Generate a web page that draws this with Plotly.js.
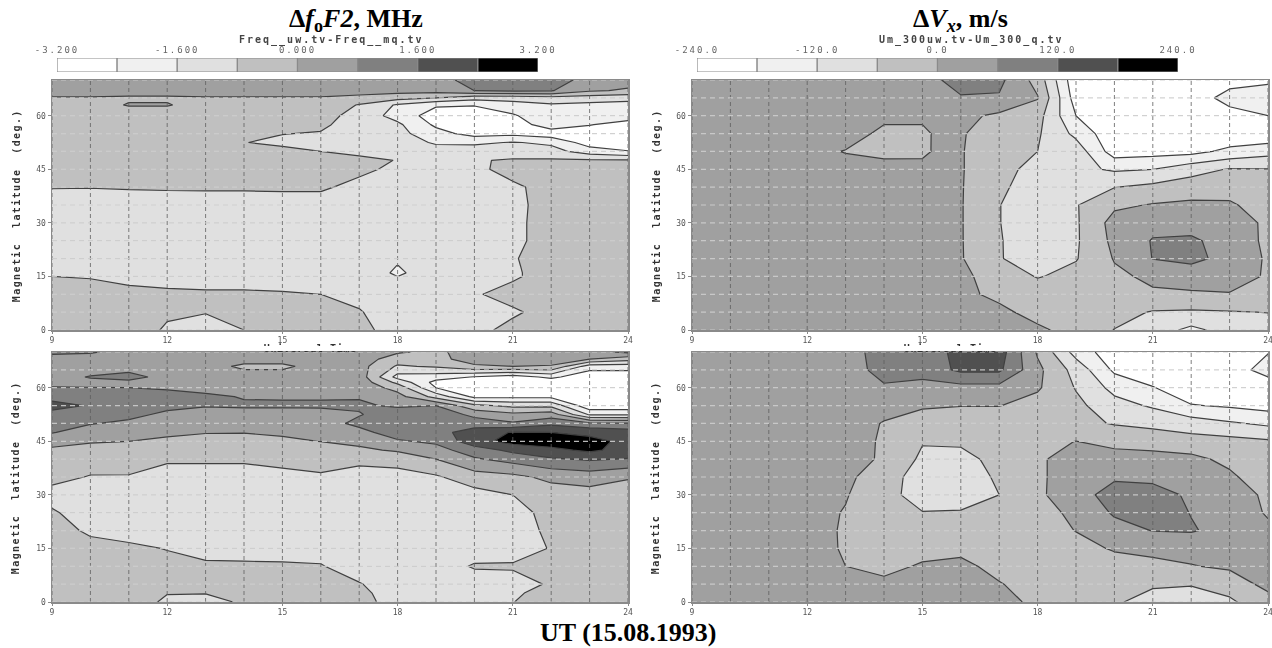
<!DOCTYPE html>
<html><head><meta charset="utf-8">
<script src="https://cdn.plot.ly/plotly-3.0.1.min.js"></script>
<style>html,body{margin:0;padding:0;background:#fff}#chart{width:1272px;height:648px}
.cut{position:absolute;background:#fff;height:5px;top:346px;width:150px}</style>
</head><body>
<svg width="0" height="0" style="position:absolute"><filter id="soft" x="-30%" y="-30%" width="160%" height="160%"><feGaussianBlur stdDeviation="0.7"/></filter></svg>
<div id="chart"></div>
<div class="cut" style="left:235px"></div><div class="cut" style="left:875px"></div>
<script>
// ---- axes values ----
const hours = [9,10,11,12,13,14,15,16,17,18,19,20,21,22,23,24];
const hoursVx = [9,10,11,12,13,14,15,15.5,16,17,18,19,20,21,22,23,24];
const gridHours = [9,10,11,12,13,14,15,16,17,18,19,20,21,22,23,24];
const gridLats = [0,5,10,15,20,25,30,35,40,45,50,55,60,65,70];
const xTicks = [9,12,15,18,21,24];
const yTicks = [0,15,30,45,60];
const bandColors = ['#ffffff','#f0f0f0','#e0e0e0','#c0c0c0','#a0a0a0','#808080','#505050','#000000'];
const foEdges = [-3.2,-2.4,-1.6,-0.8,0,0.8,1.6,2.4,3.2];
const vxEdges = [-240,-180,-120,-60,0,60,120,180,240];
const foTickVals = [-3.2,-1.6,0,1.6,3.2];
const foTickText = ['-3.200','-1.600','0.000','1.600','3.200'];
const vxTickVals = [-240,-120,0,120,240];
const vxTickText = ['-240.0','-120.0','0.0','120.0','240.0'];

// ---- delta foF2, upper panel (MHz) rows by latitude ----
const latFoTop = [0,5,10,15,16,18,20,25,30,35,40,45,47.5,50,52.5,55,57.5,60,63,65,67,70];
const foTop = [
[-.5,-.5,-.5,-.87,-1.0,-.8,-.4,-.4,-.6,-1.1,-1.2,-1.0,-.6,-.4,-.4,-.4],
[-.5,-.5,-.5,-.72,-.78,-.6,-.5,-.5,-.75,-1.2,-1.2,-1.1,-.9,-.55,-.4,-.4],
[-.55,-.6,-.65,-.7,-.72,-.72,-.74,-.8,-1.0,-1.2,-1.2,-.87,-.55,-.4,-.4,-.4],
[-.8,-.83,-.95,-1.0,-1.05,-1.05,-1.1,-1.15,-1.2,-1.6,-1.25,-1.15,-.9,-.5,-.4,-.4],
[-.85,-.9,-1.0,-1.05,-1.1,-1.1,-1.15,-1.2,-1.2,-1.7,-1.25,-1.15,-.9,-.5,-.4,-.4],
[-1.0,-1.05,-1.1,-1.15,-1.15,-1.15,-1.2,-1.2,-1.2,-1.61,-1.2,-1.15,-.88,-.48,-.4,-.4],
[-1.1,-1.15,-1.2,-1.2,-1.2,-1.2,-1.2,-1.2,-1.2,-1.2,-1.2,-1.2,-.86,-.45,-.4,-.4],
[-1.2,-1.2,-1.2,-1.2,-1.2,-1.2,-1.2,-1.2,-1.2,-1.2,-1.2,-1.2,-1.0,-.45,-.4,-.4],
[-1.2,-1.2,-1.2,-1.2,-1.2,-1.2,-1.2,-1.2,-1.2,-1.2,-1.2,-1.2,-1.0,-.45,-.4,-.4],
[-1.1,-1.1,-1.1,-1.1,-1.1,-1.1,-1.1,-1.1,-1.1,-1.2,-1.2,-1.2,-1.0,-.5,-.4,-.4],
[-.77,-.78,-.75,-.73,-.72,-.72,-.7,-.7,-1.0,-1.2,-1.25,-1.2,-.95,-.5,-.4,-.4],
[-.5,-.5,-.5,-.5,-.5,-.5,-.55,-.6,-.65,-.95,-1.2,-1.0,-.5,-.45,-.45,-.45],
[-.45,-.45,-.45,-.45,-.45,-.45,-.45,-.55,-.65,-.82,-1.2,-.88,-.7,-.7,-.7,-.7],
[-.4,-.4,-.4,-.4,-.4,-.4,-.6,-.8,-.95,-1.2,-1.25,-1.2,-1.25,-1.3,-2.0,-2.35],
[-.4,-.4,-.4,-.4,-.4,-.78,-.95,-1.05,-1.1,-1.2,-1.7,-1.75,-1.55,-1.75,-2.8,-3.0],
[-.4,-.4,-.4,-.4,-.4,-.3,-.78,-.85,-1.1,-1.35,-2.1,-2.7,-2.6,-2.9,-3,-3],
[-.4,-.4,-.4,-.4,-.4,-.4,-.5,-.65,-1.2,-1.45,-2.55,-2.9,-2.9,-1.9,-2.35,-2.8],
[-.4,-.4,-.4,-.4,-.4,-.4,-.4,-.5,-1.1,-1.9,-2.8,-2.9,-2.5,-1.8,-1.9,-1.9],
[-.3,-.3,.05,.05,-.3,-.3,-.3,-.3,-.85,-1.7,-2.3,-2.35,-1.9,-1.7,-1.8,-1.8],
[-.05,-.05,-.1,-.1,-.05,-.05,-.05,-.05,-.2,-.5,-.8,-1.3,-1.3,-1.1,-1.2,-1.4],
[.3,.3,.3,.3,.3,.3,.3,.3,.3,.3,.3,.8,.9,.85,.1,-.1],
[.5,.5,.5,.5,.5,.5,.5,.5,.5,.5,.5,1.1,1.2,1.2,.5,.3]
];

// ---- delta Vx, upper panel (read in contour steps of 0.8 = 60 m/s) rows by latitude ----
const latVx = [0,5,10,15,20,25,30,35,40,45,50,55,60,65,70];
const vxTopSteps = [
[.4,.4,.4,.4,.4,.4,.4,.4,.4,.3,.15,-.3,-.82,-1.2,-1.8,-1.3,-1.2],
[.4,.4,.4,.4,.4,.4,.4,.4,.35,.2,-.3,-.45,-.55,-.85,-.9,-.85,-.78],
[.4,.4,.4,.4,.4,.4,.4,.4,.2,-.2,-.35,-.4,-.35,-.1,-.1,-.05,-.1],
[.4,.4,.4,.4,.4,.4,.4,.35,.15,-.3,-.85,-.55,-.15,.15,.35,.4,-.1],
[.4,.4,.4,.4,.4,.4,.4,.3,.06,-.75,-1.2,-.85,.05,.82,1.0,.55,-.1],
[.4,.4,.4,.4,.4,.4,.4,.3,.05,-.75,-1.25,-.9,.2,.85,.88,.6,-.2],
[.4,.4,.4,.4,.4,.4,.4,.3,.05,-.78,-1.25,-.9,.3,.55,.6,.55,-.2],
[.4,.4,.4,.4,.4,.4,.4,.3,.05,-.78,-1.25,-.85,-.15,.05,.15,.1,-.35],
[.4,.4,.4,.4,.4,.4,.4,.3,.05,-.65,-1.2,-1.15,-.82,-.6,-.4,-.3,-.3],
[.4,.4,.4,.4,.4,.35,.3,.35,.05,-.5,-1.1,-1.4,-1.7,-1.6,-1.1,-.75,-.77],
[.4,.4,.4,.3,-.05,-.25,-.2,.25,.04,-.4,-.8,-1.15,-2.8,-2.7,-2.65,-2.2,-1.9],
[.4,.4,.4,.4,.5,-.25,-.25,.3,.05,-.3,-.7,-1.8,-3,-3,-3,-3,-3],
[.4,.4,.4,.4,.5,.25,.25,.35,.2,-.15,-.5,-2.4,-3,-3,-3,-2.8,-2.4],
[.4,.4,.4,.4,.4,.4,.5,.6,.75,.72,.05,-2.8,-3,-3,-3,-2.0,-1.8],
[.4,.4,.4,.4,.4,.4,.6,.8,1.05,1.0,-.3,-3,-3,-3,-3,-2.8,-2.6]
];

// ---- delta foF2, lower panel (MHz) columns by hour ----
const latFoBottom = [0,2.5,5,10,15,20,25,30,35,40,42.5,45,47.5,50,52.5,55,57.5,60,61.5,63,66,68,70];
const foBottomByHour = [
[-.5,-.5,-.5,-.5,-.5,-.55,-.7,-1.1,-.55,-.3,-.1,.2,.85,1.1,1.4,1.8,1.4,.82,.7,.5,.4,.4,1.0],
[-.5,-.5,-.5,-.5,-.6,-.9,-1.2,-1.2,-.85,-.4,-.2,.05,.4,.85,1.1,1.55,1.3,.82,.6,.85,.4,.4,.9],
[-.5,-.5,-.5,-.6,-.7,-1.0,-1.2,-1.2,-.85,-.45,-.15,0,.3,.65,1.0,1.3,1.2,.8,.6,1.1,.4,.4,.5],
[-.9,-.78,-.6,-.65,-.82,-1.2,-1.25,-1.25,-1.1,-.7,-.4,-.15,.15,.4,.65,1.0,1.1,.7,.55,.5,.4,.4,.4],
[-1.0,-.78,-.55,-.7,-1.0,-1.25,-1.25,-1.25,-1.1,-.7,-.45,-.2,.03,.25,.5,.85,.95,.55,.5,.45,.4,.4,.4],
[-.72,-.55,-.55,-.72,-1.0,-1.25,-1.3,-1.3,-1.1,-.7,-.45,-.2,.02,.25,.5,.9,.75,.55,.5,.45,-.2,.4,.4],
[-.5,-.5,-.5,-.72,-1.05,-1.3,-1.3,-1.3,-1.0,-.6,-.4,-.12,.1,.3,.55,.88,.75,.55,.5,.45,-.2,.4,.4],
[-.5,-.5,-.55,-.75,-1.1,-1.3,-1.3,-1.25,-.88,-.55,-.25,.01,.2,.45,.6,.88,.75,.55,.5,.45,.4,.4,.4],
[-.55,-.6,-.75,-1.2,-1.3,-1.3,-1.25,-1.2,-1.05,-.65,-.15,.2,.55,1.0,.75,.9,.75,.55,.5,.45,.3,.4,.4],
[-1.1,-1.2,-1.25,-1.3,-1.3,-1.3,-1.3,-1.25,-1.1,-.5,.1,.7,1.2,1.4,1.2,.7,.3,-.3,-1.0,-1.9,-.9,-.4,.1],
[-1.2,-1.25,-1.3,-1.3,-1.3,-1.3,-1.25,-1.2,-.9,0,.5,.95,1.3,1.45,1.3,.8,-1.1,-2.4,-2.7,-2.0,-.7,-.2,-.2],
[-1.3,-1.3,-1.35,-.7,-1.3,-1.3,-1.25,-1.1,-.35,.7,1.2,2.1,2.0,1.2,.6,-.6,-2.6,-3,-3,-2.45,-.1,.3,.45],
[-.82,-.95,-1.15,-.7,-1.2,-1.25,-1.15,-.8,-.2,1.1,1.8,2.7,2.45,.9,.2,-1.0,-2.6,-3,-3,-2.8,0,.3,.45],
[-.4,-.45,-.7,-.6,-.75,-.6,-.5,-.4,.2,1.5,2.2,2.8,2.4,1.4,.4,-1.0,-2.6,-3,-3,-2.2,-.05,.3,.45],
[-.4,-.4,-.4,-.4,-.4,-.4,-.35,-.3,.35,1.7,2.55,2.65,2.2,1.0,-1.7,-3,-3,-3,-3,-3,-2.0,0,.5],
[-.4,-.4,-.4,-.4,-.4,-.4,-.35,-.3,.05,1.55,2.1,2.2,2.0,.9,-1.7,-3,-3,-3,-3,-3,-2.0,-.5,1.0]
];

// ---- delta Vx, lower panel (contour steps) rows by latitude ----
const vxBottomSteps = [
[.4,.4,.4,.4,.4,.4,.4,.4,.3,-.2,-.5,-.7,-1.1,-1.2,-.9,-.4],
[.4,.4,.4,.4,.5,.2,.5,.5,.05,-.35,-.45,-.6,-.7,-.75,-.55,.3],
[.4,.4,.4,.4,0,-.25,.1,.2,-.25,-.35,-.4,-.3,-.15,-.05,.15,.35],
[.4,.4,.4,.4,-.1,-.4,-.3,-.2,-.3,-.4,-.25,.07,.15,.35,.55,.35],
[.4,.4,.4,.35,-.1,-.5,-.5,-.5,-.5,-.35,.02,.5,.82,.85,.6,.2],
[.4,.4,.4,.3,-.05,-.7,-.78,-.75,-.5,-.25,.15,.9,1.1,.78,.6,-.1],
[.4,.4,.4,.3,.06,-.6,-1.05,-1.1,-.8,-.15,.5,1.1,1.05,.7,.4,-.15],
[.4,.4,.4,.35,.2,-.5,-1.1,-1.15,-.7,-.1,.3,.7,.65,.6,.15,-.5],
[.4,.4,.4,.4,.3,-.1,-.95,-1.0,-.6,-.1,.3,.35,.3,.2,-.2,-.4],
[.4,.4,.4,.4,.35,-.1,-.75,-.7,-.5,-.2,.01,-.25,-.35,-.5,-.55,-.7],
[.4,.4,.4,.4,.4,-.05,-.4,-.45,-.45,-.5,-.6,-.85,-1.0,-1.2,-1.5,-1.75],
[.4,.4,.4,.4,.4,.3,.1,.02,.02,-.3,-.6,-1.3,-1.7,-2.35,-2.5,-2.7],
[.4,.4,.4,.4,.4,.7,.5,.55,.55,.1,-.85,-1.85,-2.35,-3,-3,-3],
[.4,.4,.4,.4,.4,1.1,1.15,1.75,1.75,.2,-1.1,-2.55,-3,-3,-2.9,-2.0],
[.4,.4,.4,.4,.5,1.1,1.05,1.9,2.0,-.1,-1.9,-2.9,-3,-3,-3,-2.45]
];
const msPerStep = 60/0.8;

const W = 1272, H = 648;
const fx = p => p / W, fy = p => 1 - p / H;
const mono = '"DejaVu Sans Mono",monospace';
const stepped = [];
bandColors.forEach((c,i)=>{ stepped.push([i/8,c]); stepped.push([(i+1)/8,c]); });

const traces = [];
const layout = {width:W,height:H,margin:{l:0,r:0,t:0,b:0},paper_bgcolor:'#fff',plot_bgcolor:'#fff',
  showlegend:false,annotations:[],hovermode:false,font:{family:mono,size:8,color:'#444'}};

function addPanel(n, x0, x1, y0, y1, xs, ys, z, edges){
  const xa='xaxis'+(n===1?'':n), ya='yaxis'+(n===1?'':n), xr='x'+(n===1?'':n), yr='y'+(n===1?'':n);
  const step = edges[1]-edges[0];
  traces.push({type:'contour',x:xs,y:ys,z:z,xaxis:xr,yaxis:yr,showscale:false,
    zmin:edges[0],zmax:edges[8],colorscale:stepped,autocontour:false,hoverinfo:'skip',
    contours:{coloring:'fill',start:edges[1],end:edges[7],size:step,showlines:true},
    line:{color:'#404040',width:1.2,smoothing:0}});
  const vx=[],vy=[],hx=[],hy=[];
  gridHours.forEach(h=>{vx.push(h,h,null);vy.push(0,70,null);});
  gridLats.forEach(l=>{hx.push(9,24,null);hy.push(l,l,null);});
  traces.push({type:'scatter',mode:'lines',x:vx,y:vy,xaxis:xr,yaxis:yr,hoverinfo:'skip',
    line:{color:'#5f5f5f',width:1,dash:'4px,3px'},opacity:.8});
  traces.push({type:'scatter',mode:'lines',x:hx,y:hy,xaxis:xr,yaxis:yr,hoverinfo:'skip',
    line:{color:'#cdcdcd',width:1.2,dash:'5px,4px'},opacity:.9});
  const lineCol='#8a8a8a';
  layout[xa]={domain:[fx(x0),fx(x1)],range:[9,24],anchor:yr,showgrid:false,zeroline:false,tickmode:'array',
    tickvals:xTicks,ticktext:xTicks.map(String),ticks:'outside',ticklen:2,tickcolor:lineCol,ticklabeloverflow:'allow',
    tickfont:{family:mono,size:8,color:'#555'},showline:true,linecolor:lineCol,linewidth:1.5,mirror:true};
  layout[ya]={domain:[fy(y1),fy(y0)],range:[0,70],anchor:xr,showgrid:false,zeroline:false,tickmode:'array',
    tickvals:yTicks,ticktext:yTicks.map(String),ticks:'outside',ticklen:3,tickcolor:lineCol,
    tickfont:{family:mono,size:8,color:'#555'},showline:true,linecolor:lineCol,linewidth:1.5,mirror:true};
  layout.annotations.push({xref:'paper',yref:'paper',x:fx(x0-36),y:fy(y0+126),text:'Magnetic  latitude  (deg.)',
    textangle:-90,showarrow:false,xanchor:'center',yanchor:'middle',
    font:{family:mono,size:10,color:'#333',weight:700}});
}
function addBar(n, x0, x1, y0, y1, edges, tv, tt){
  const xa='xaxis'+n, ya='yaxis'+n;
  traces.push({type:'bar',orientation:'h',xaxis:'x'+n,yaxis:'y'+n,hoverinfo:'skip',width:1,
    y:bandColors.map(()=>0),x:bandColors.map((c,i)=>edges[i+1]-edges[i]),base:bandColors.map((c,i)=>edges[i]),
    marker:{color:bandColors,line:{color:'#8a8a8a',width:1.2}}});
  layout[xa]={domain:[fx(x0),fx(x1)],range:[edges[0],edges[8]],anchor:'y'+n,side:'top',showgrid:false,zeroline:false,
    tickmode:'array',tickvals:tv,ticktext:tt,ticks:'',ticklabelstandoff:2,ticklabeloverflow:'allow',
    tickfont:{family:mono,size:9,color:'#666'},showline:false};
  layout[ya]={domain:[fy(y1),fy(y0)],range:[-.5,.5],anchor:'x'+n,showticklabels:false,showgrid:false,zeroline:false,ticks:'',showline:false};
}

const toMs = rows => rows.map(r=>r.map(v=>v*msPerStep));
const foBottom = latFoBottom.map((_,i)=>foBottomByHour.map(col=>col[i]));

addPanel(1,52,628,80,330,hours,latFoTop,foTop,foEdges);
addPanel(2,692,1268,80,330,hoursVx,latVx,toMs(vxTopSteps),vxEdges);
addPanel(3,52,628,352,602,hours,latFoBottom,foBottom,foEdges);
addPanel(4,692,1268,352,602,hours,latVx,toMs(vxBottomSteps),vxEdges);
addBar(5,57,538,58,72,foEdges,foTickVals,foTickText);
addBar(6,697,1178,58,72,vxEdges,vxTickVals,vxTickText);

const serif='"Liberation Serif",serif';
function note(x,y,text,font){layout.annotations.push({xref:'paper',yref:'paper',x:fx(x),y:fy(y),text:text,showarrow:false,
  xanchor:'center',yanchor:'middle',font:font});}
note(356,20,'<b>Δ<i>f</i><sub>o</sub><i>F2</i>, MHz</b>',{family:serif,size:26,color:'#000'});
note(960,20,'<b>Δ<i>V<sub>x</sub></i>, m/s</b>',{family:serif,size:26,color:'#000'});
note(628,632,'<b>UT (15.08.1993)</b>',{family:serif,size:26,color:'#000'});
const small={family:mono,size:10,color:'#444',weight:700};
note(331,40,'Freq__uw.tv-Freq__mq.tv',small);
note(971,40,'Um_300uw.tv-Um_300_q.tv',small);
note(310,349,'Universal Time',{family:mono,size:10,color:'#333',weight:700});
note(950,349,'Universal Time',{family:mono,size:10,color:'#333',weight:700});

Plotly.newPlot('chart',traces,layout,{staticPlot:true,displayModeBar:false}).then(()=>{
  const svgs=document.querySelectorAll('#chart .main-svg');
  svgs[0].style.filter='blur(0.7px)';
  document.querySelectorAll('#chart .annotation').forEach(e=>{
    const t=e.textContent;
    if(/UT \(|MHz|m\/s/.test(t)) return;
    e.setAttribute('filter','url(#soft)');
    const s=e.querySelector('text');
    if(s) s.style.letterSpacing=/latitude/.test(t)?'1.4px':(/Universal/.test(t)?'0.6px':'2px');
  });
  ['x5y5','x6y6'].forEach(c=>document.querySelectorAll('#chart .'+c+' .xtick text, #chart .xaxislayer-above .x5tick text, #chart .xaxislayer-above .x6tick text').forEach(t=>{t.style.letterSpacing='2px';}));
});
</script>
</body></html>
